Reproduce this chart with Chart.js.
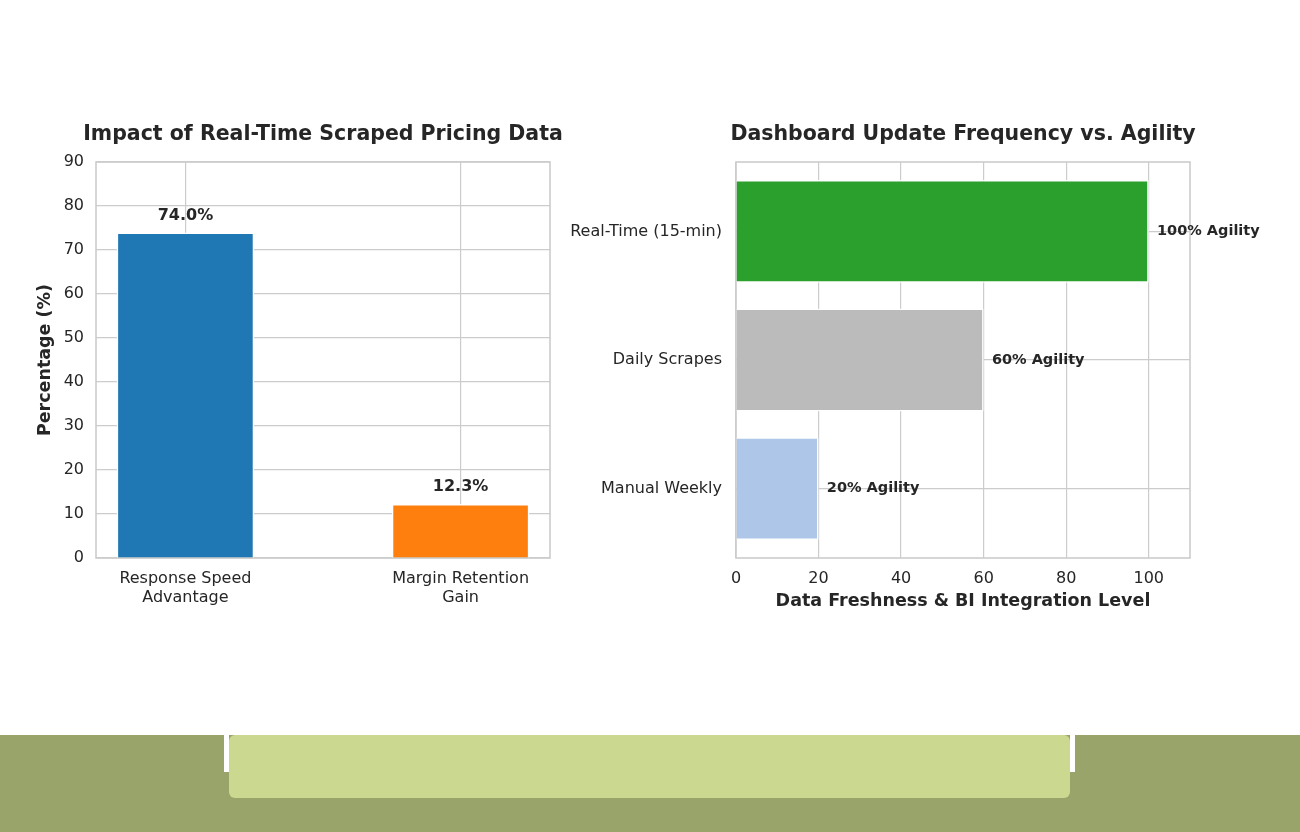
<!DOCTYPE html>
<html>
<head>
<meta charset="utf-8">
<title>Scraped pricing data charts</title>
<script src="https://cdn.jsdelivr.net/npm/chart.js@4.4.1/dist/chart.umd.min.js"></script>
<style>
    body { margin: 0; width: 1300px; height: 832px; background: #ffffff; position: relative; overflow: hidden; }
    canvas { position: absolute; }
    #leftChart { left: 0; top: 110px; }
    #rightChart { left: 560px; top: 110px; }
    .band { position: absolute; left: 0; top: 735px; width: 1300px; height: 97px; background: #99a46a; }
    .gap { position: absolute; top: 735px; width: 5px; height: 37px; background: #ffffff; }
    .panel { position: absolute; left: 229px; top: 735px; width: 841px; height: 63px; background: #cad890; border-radius: 6px; }
</style>
</head>
<body>
<canvas id="leftChart" width="600" height="520"></canvas>
<canvas id="rightChart" width="740" height="520"></canvas>
<div class="band"></div>
<div class="gap" style="left:224px"></div>
<div class="gap" style="left:1070px"></div>
<div class="panel"></div>

<script>
// --- date ---
const leftCategories = [['Response Speed', 'Advantage'], ['Margin Retention', 'Gain']];
const leftValues = [74.0, 12.3];
const leftColors = ['#1f77b4', '#ff7f0e'];
const leftTicks = [0, 10, 20, 30, 40, 50, 60, 70, 80, 90];

const rightCategories = ['Manual Weekly', 'Daily Scrapes', 'Real-Time (15-min)'];
const rightValues = [20, 60, 100];
const rightColors = ['#aec7e8', '#bbbbbb', '#2ca02c'];
const rightTicks = [0, 20, 40, 60, 80, 100];

const textColor = '#262626';
const gridColor = '#cccccc';

Chart.defaults.font.family = "'DejaVu Sans', sans-serif";
Chart.defaults.color = textColor;
Chart.defaults.animation = false;

// Rama completă în jurul zonei de plot (stil whitegrid)
const frame = {
    id: 'frame',
    beforeDatasetsDraw(chart) {
        const { ctx, chartArea: a } = chart;
        ctx.save();
        ctx.strokeStyle = gridColor;
        ctx.lineWidth = 1.6;
        ctx.strokeRect(a.left, a.top, a.right - a.left, a.bottom - a.top);
        ctx.restore();
    }
};

// Titlu centrat pe zona de plot, fără să fie comprimat la lățimea ei
const plotTitle = {
    id: 'plotTitle',
    afterDraw(chart, args, opts) {
        const { ctx, chartArea: a } = chart;
        ctx.save();
        ctx.font = "bold 20.5px 'DejaVu Sans'";
        ctx.fillStyle = textColor;
        ctx.textAlign = 'center';
        ctx.textBaseline = 'middle';
        ctx.fillText(opts.text, (a.left + a.right) / 2, 25);
        ctx.restore();
    }
};

// Etichete de valoare pe bare
const barLabels = {
    id: 'barLabels',
    afterDatasetsDraw(chart, args, opts) {
        const { ctx } = chart;
        const meta = chart.getDatasetMeta(0);
        const values = chart.data.datasets[0].data;
        ctx.save();
        ctx.font = 'bold ' + opts.size + "px 'DejaVu Sans'";
        ctx.fillStyle = textColor;
        meta.data.forEach((bar, i) => {
            const p = values[i];
            if (opts.horizontal) {
                ctx.textAlign = 'left';
                ctx.textBaseline = 'middle';
                ctx.fillText(opts.format(p.x), chart.scales.x.getPixelForValue(p.x + 2), bar.y);
            } else {
                ctx.textAlign = 'center';
                ctx.textBaseline = 'bottom';
                ctx.fillText(opts.format(p.y), bar.x, chart.scales.y.getPixelForValue(p.y + 2));
            }
        });
        ctx.restore();
    }
};

// --- 1. Grafic stânga: bare verticale ---
new Chart(document.getElementById('leftChart'), {
    type: 'bar',
    data: {
        datasets: [{
            data: leftValues.map((v, i) => ({ x: i, y: v })),
            backgroundColor: leftColors,
            borderColor: '#ffffff',
            borderWidth: 1.5,
            barPercentage: 0.5,
            categoryPercentage: 1
        }]
    },
    options: {
        responsive: false,
        layout: { padding: { left: 0, right: 50, top: 52, bottom: 0 } },
        scales: {
            x: {
                type: 'linear',
                min: -0.325,
                max: 1.325,
                offset: false,
                afterBuildTicks: s => { s.ticks = leftCategories.map((c, i) => ({ value: i })); },
                afterFit: s => { s.height = 72; },
                ticks: {
                    callback: v => leftCategories[v],
                    font: { size: 16 },
                    padding: 11,
                    maxRotation: 0,
                    autoSkip: false
                },
                grid: { color: gridColor, lineWidth: 1.2, drawTicks: false, offset: false },
                border: { display: false }
            },
            y: {
                min: 0,
                max: 90,
                afterBuildTicks: s => { s.ticks = leftTicks.map(v => ({ value: v })); },
                afterFit: s => { s.width = 96; },
                ticks: { font: { size: 16 }, padding: 12 },
                grid: { color: gridColor, lineWidth: 1.2, drawTicks: false },
                border: { display: false },
                title: {
                    display: true,
                    text: 'Percentage (%)',
                    font: { size: 17.5, weight: 'bold' },
                    padding: { top: 35, bottom: 0 }
                }
            }
        },
        plugins: {
            legend: { display: false },
            tooltip: { enabled: false },
            plotTitle: { text: 'Impact of Real-Time Scraped Pricing Data' },
            barLabels: { horizontal: false, size: 16, format: v => v.toFixed(1) + '%' }
        }
    },
    plugins: [frame, plotTitle, barLabels]
});

// --- 2. Grafic dreapta: bare orizontale ---
new Chart(document.getElementById('rightChart'), {
    type: 'bar',
    data: {
        datasets: [{
            data: rightValues.map((v, i) => ({ x: v, y: i })),
            backgroundColor: rightColors,
            borderColor: '#ffffff',
            borderWidth: 1.5,
            barPercentage: 0.8,
            categoryPercentage: 1
        }]
    },
    options: {
        indexAxis: 'y',
        responsive: false,
        layout: { padding: { left: 0, right: 110, top: 52, bottom: 0 } },
        scales: {
            x: {
                type: 'linear',
                min: 0,
                max: 110,
                afterBuildTicks: s => { s.ticks = rightTicks.map(v => ({ value: v })); },
                afterFit: s => { s.height = 72; },
                ticks: { font: { size: 16 }, padding: 11, maxRotation: 0 },
                grid: { color: gridColor, lineWidth: 1.2, drawTicks: false },
                border: { display: false },
                title: {
                    display: true,
                    text: 'Data Freshness & BI Integration Level',
                    font: { size: 17.5, weight: 'bold' },
                    padding: { top: 0, bottom: 18.5 }
                }
            },
            y: {
                type: 'linear',
                min: -0.54,
                max: 2.54,
                offset: false,
                afterBuildTicks: s => { s.ticks = rightCategories.map((c, i) => ({ value: i })); },
                afterFit: s => { s.width = 176; },
                ticks: {
                    callback: v => rightCategories[v],
                    font: { size: 16 },
                    padding: 14,
                    autoSkip: false
                },
                grid: { color: gridColor, lineWidth: 1.2, drawTicks: false, offset: false },
                border: { display: false }
            }
        },
        plugins: {
            legend: { display: false },
            tooltip: { enabled: false },
            plotTitle: { text: 'Dashboard Update Frequency vs. Agility' },
            barLabels: { horizontal: true, size: 14.5, format: v => v + '% Agility' }
        }
    },
    plugins: [frame, plotTitle, barLabels]
});
</script>
</body>
</html>
